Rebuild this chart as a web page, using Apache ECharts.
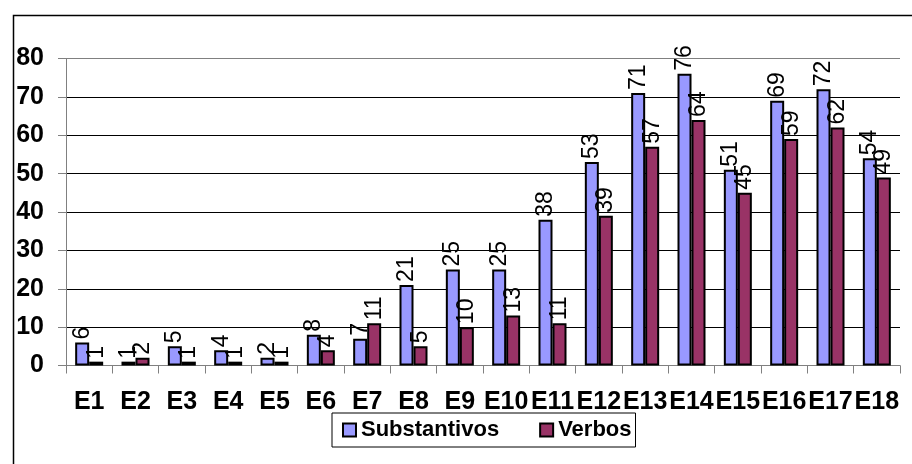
<!DOCTYPE html>
<html>
<head>
<meta charset="utf-8">
<script src="https://cdn.jsdelivr.net/npm/echarts@6/dist/echarts.min.js"></script>
<style>
  html, body { margin: 0; padding: 0; background: #fff; }
  #chart { width: 912px; height: 464px; }
</style>
</head>
<body>
<div id="chart"></div>
<script>
// Categories and the two series of counts
const categories = ['E1','E2','E3','E4','E5','E6','E7','E8','E9','E10','E11','E12','E13','E14','E15','E16','E17','E18'];
const substantivos = [6, 1, 5, 4, 2, 8, 7, 21, 25, 25, 38, 53, 71, 76, 51, 69, 72, 54];
const verbos = [1, 2, 1, 1, 1, 4, 11, 5, 10, 13, 11, 39, 57, 64, 45, 59, 62, 49];
const seriesNames = ['Substantivos', 'Verbos'];

const FONT = "'Liberation Sans', Arial, sans-serif";

function barSeries(name, values, color) {
  return {
    name: name,
    type: 'bar',
    data: values,
    barWidth: 14,
    barGap: '0%',
    itemStyle: { color: color, borderColor: '#000', borderWidth: 2 },
    label: {
      show: true,
      position: 'top',
      rotate: 90,
      align: 'left',
      verticalAlign: 'middle',
      distance: 3,
      color: '#000',
      fontFamily: FONT,
      fontSize: 23
    }
  };
}

// grid lines: black, the top one (80) a lighter grey
const gridColors = ['#000', '#000', '#000', '#000', '#000', '#000', '#000', '#000', '#808080'];

const chart = echarts.init(document.getElementById('chart'), null, { renderer: 'canvas' });
chart.setOption({
  animation: false,
  backgroundColor: '#fff',
  graphic: [{
    type: 'rect',
    left: 11, top: 13,
    shape: { width: 930, height: 480 },
    style: { fill: 'none', stroke: '#000', lineWidth: 1.5 },
    z: -1
  }],
  grid: { left: 66, right: 12, top: 58.5, bottom: 98.5 },
  legend: {
    data: seriesNames,
    left: 332, top: 413,
    orient: 'horizontal',
    icon: 'rect',
    itemWidth: 13, itemHeight: 13,
    itemGap: 40,
    padding: [6, 4, 6, 10],
    borderColor: '#000',
    borderWidth: 1,
    itemStyle: { borderColor: '#000', borderWidth: 2 },
    textStyle: { fontFamily: FONT, fontSize: 22, fontWeight: 'bold', color: '#000' }
  },
  xAxis: {
    type: 'category',
    data: categories,
    boundaryGap: true,
    axisLine: { lineStyle: { color: '#808080', width: 1 } },
    axisTick: { show: true, length: 8, inside: false, lineStyle: { color: '#808080' } },
    axisLabel: { interval: 0, margin: 24, fontFamily: FONT, fontSize: 25, fontWeight: 'bold', color: '#000' },
    splitLine: { show: false }
  },
  yAxis: {
    type: 'value',
    min: 0, max: 80, interval: 10,
    axisLine: { show: true, lineStyle: { color: '#808080', width: 1 } },
    axisTick: { show: true, length: 8, lineStyle: { color: '#808080' } },
    axisLabel: { margin: 22, fontFamily: FONT, fontSize: 25, fontWeight: 'bold', color: '#000' },
    splitLine: { show: true, lineStyle: { color: gridColors, width: 1 } }
  },
  series: [
    barSeries(seriesNames[0], substantivos, '#9999FF'),
    barSeries(seriesNames[1], verbos, '#993366')
  ]
});
</script>
</body>
</html>
